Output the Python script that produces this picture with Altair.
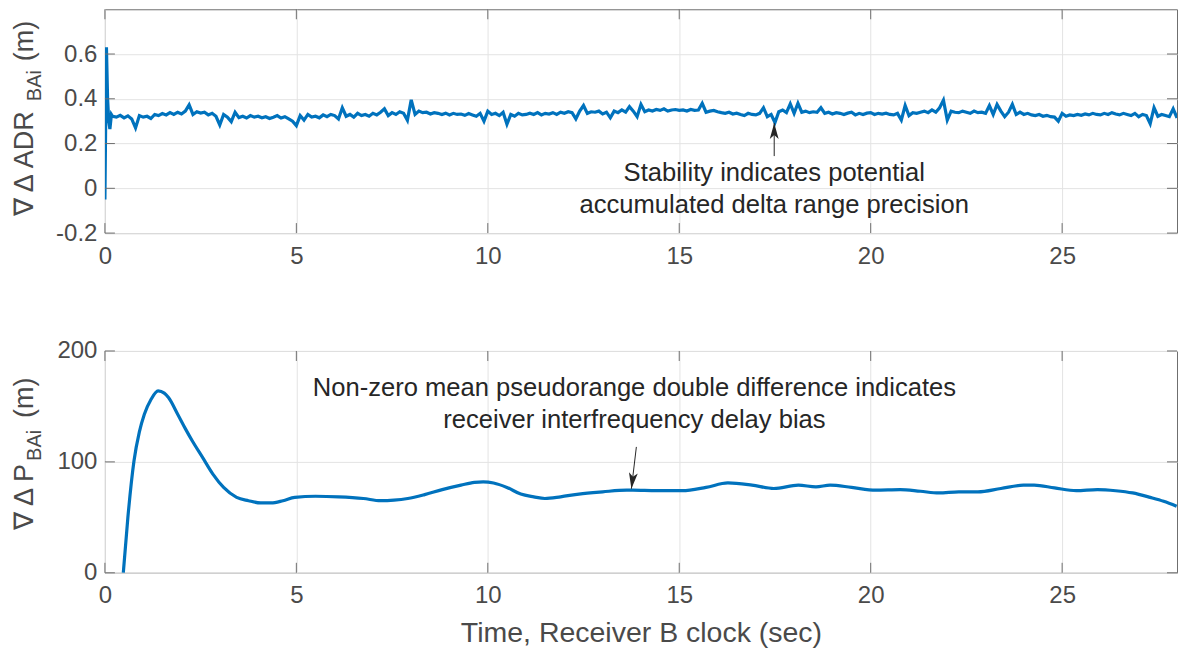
import altair as alt
import numpy as np
import pandas as pd

# ---------------- data ----------------
X_TICKS = [0, 5, 10, 15, 20, 25]
TOP_Y_TICKS = [-0.2, 0, 0.2, 0.4, 0.6]
BOT_Y_TICKS = [0, 100, 200]

# top panel: start-up transient (finer sampling)
TOP_T_HEAD = [0.0, 0.02, 0.04, 0.07, 0.10, 0.13, 0.17]
TOP_V_HEAD = [-0.05, 0.30, 0.63, 0.40, 0.30, 0.265, 0.33]

# top panel: samples every 0.1 s from 0.2 s to 28.0 s
TOP_V = [
    0.322, 0.318, 0.326, 0.315, 0.324, 0.310, 0.270, 0.325,
    0.318, 0.322, 0.312, 0.330, 0.325, 0.334, 0.328, 0.338, 0.330, 0.340,
    0.332, 0.345, 0.373, 0.330, 0.342, 0.336, 0.340, 0.328, 0.335, 0.322,
    0.283, 0.330, 0.318, 0.298, 0.340, 0.316, 0.322, 0.314, 0.325, 0.318,
    0.322, 0.315, 0.320, 0.312, 0.318, 0.325, 0.314, 0.320, 0.310, 0.300,
    0.280, 0.325, 0.305, 0.330, 0.318, 0.322, 0.315, 0.328, 0.320, 0.330,
    0.325, 0.310, 0.360, 0.322, 0.330, 0.318, 0.335, 0.325, 0.330, 0.322,
    0.335, 0.328, 0.340, 0.355, 0.325, 0.338, 0.330, 0.342, 0.335, 0.304,
    0.395, 0.330, 0.345, 0.338, 0.340, 0.332, 0.338, 0.335, 0.330, 0.336,
    0.328, 0.335, 0.330, 0.332, 0.326, 0.334, 0.328, 0.322, 0.335, 0.300,
    0.345, 0.330, 0.335, 0.325, 0.340, 0.286, 0.330, 0.322, 0.335, 0.328,
    0.330, 0.336, 0.330, 0.338, 0.328, 0.335, 0.332, 0.338, 0.330, 0.340,
    0.335, 0.342, 0.338, 0.310, 0.345, 0.370, 0.335, 0.342, 0.340, 0.345,
    0.332, 0.340, 0.315, 0.345, 0.338, 0.350, 0.340, 0.365, 0.345, 0.320,
    0.375, 0.342, 0.350, 0.345, 0.352, 0.348, 0.355, 0.345, 0.350, 0.352,
    0.348, 0.350, 0.345, 0.352, 0.348, 0.350, 0.380, 0.340, 0.345, 0.348,
    0.342, 0.338, 0.335, 0.340, 0.332, 0.336, 0.330, 0.325, 0.335, 0.330,
    0.328, 0.335, 0.360, 0.320, 0.330, 0.294, 0.342, 0.350, 0.338, 0.377,
    0.335, 0.380, 0.340, 0.345, 0.338, 0.342, 0.340, 0.360, 0.335, 0.340,
    0.332, 0.338, 0.335, 0.330, 0.336, 0.340, 0.328, 0.335, 0.330, 0.336,
    0.338, 0.330, 0.335, 0.332, 0.336, 0.330, 0.328, 0.335, 0.305, 0.370,
    0.325, 0.338, 0.335, 0.340, 0.345, 0.338, 0.350, 0.340, 0.360, 0.394,
    0.305, 0.345, 0.340, 0.338, 0.345, 0.340, 0.335, 0.345, 0.338, 0.340,
    0.335, 0.370, 0.330, 0.375, 0.345, 0.320, 0.340, 0.375, 0.330, 0.340,
    0.330, 0.335, 0.328, 0.325, 0.330, 0.322, 0.326, 0.320, 0.318, 0.300,
    0.335, 0.322, 0.328, 0.325, 0.330, 0.326, 0.332, 0.328, 0.335, 0.330,
    0.328, 0.335, 0.330, 0.338, 0.332, 0.328, 0.335, 0.330, 0.325, 0.335,
    0.320, 0.330, 0.325, 0.289, 0.360, 0.322, 0.330, 0.325, 0.320, 0.355,
    0.315,
]
TOP_T = list(np.round(np.arange(2, 281) / 10.0, 1))

# bottom panel
BOT_T = [0.48, 0.6, 0.76, 0.9, 1.03, 1.2, 1.39, 1.55, 1.66, 1.9,
         2.1, 2.28, 2.55, 2.82, 3.1, 3.44, 3.75, 4.07, 4.34, 4.65,
         4.96, 5.5, 6.1, 6.75, 7.2, 7.55, 7.91, 8.35, 8.81, 9.3,
         9.65, 9.88, 10.15, 10.5, 10.86, 11.2, 11.49, 11.9, 12.38, 13.0,
         13.63, 13.79, 14.4, 15.08, 15.7, 16.27, 16.9, 17.47, 18.11, 18.57,
         18.94, 19.5, 20.13, 20.77, 21.3, 21.78, 22.3, 22.8, 23.4, 23.99,
         24.27, 24.8, 25.37, 25.92, 26.4, 26.84, 27.3, 27.65, 27.99]
BOT_V = [0, 50, 101, 127, 143, 156, 164, 162, 158, 143,
         130, 119, 104, 89, 77, 68, 65, 63, 63, 65,
         68, 69, 68.5, 67, 65, 65.5, 67, 70.5, 75, 79,
         81.5, 82, 81, 77, 71, 68.5, 67, 68.5, 71, 73,
         74.5, 74.5, 74, 74, 77, 81, 79, 76, 79, 77.5,
         79, 77, 74.5, 75, 73.5, 72, 73, 73, 76, 79,
         79, 76.5, 74, 75, 74, 72, 68, 64.5, 60]

TOP_NOTE = ["Stability indicates potential", "accumulated delta range precision"]
TOP_NOTE_T = [17.48, 17.48]
TOP_NOTE_V = [0.067, -0.076]
TOP_ARROW_TAIL = (17.48, 0.144)
TOP_ARROW_TIP = (17.48, 0.292)

BOT_NOTE = ["Non-zero mean pseudorange double difference indicates",
            "receiver interfrequency delay bias"]
BOT_NOTE_T = [13.83, 13.83]
BOT_NOTE_V = [166.7, 137.8]
BOT_ARROW_TAIL = (13.88, 113.5)
BOT_ARROW_TIP = (13.75, 75.7)

# ---------------- style ----------------
FONT = "Liberation Sans"
AX = "#4a4a4a"
TXT = "#262626"
LINE = "#0072BD"
BOX = "#6e6e6e"
W, H1, H2 = 1073, 224, 222
TICK = 10
NOTE_SIZE = 25.6

ARROW_UP = "M0,-1 L0.55,1 L0,0.5 L-0.55,1 Z"
ARROW_DOWN = "M0,1 L0.55,-1 L0,-0.5 L-0.55,-1 Z"


def encodings(ydomain, yticks, x_title=None, label_expr=None):
    xaxis = alt.Axis(values=X_TICKS, title=x_title, labelFlush=False,
                     labelPadding=11, titlePadding=11)
    yargs = dict(values=yticks, title=None)
    if label_expr:
        yargs["labelExpr"] = label_expr
    yaxis = alt.Axis(**yargs)
    xs = alt.Scale(domain=[0, 28], nice=False, zero=False)
    ys = alt.Scale(domain=ydomain, nice=False, zero=False)
    ex = alt.X("t:Q", scale=xs, axis=xaxis)
    ey = alt.Y("v:Q", scale=ys, axis=yaxis)
    return ex, ey


def inward_ticks(ex, ey, yticks, h):
    xt = pd.DataFrame({"t": X_TICKS})
    yt = pd.DataFrame({"v": yticks})
    r = dict(color=BOX, strokeWidth=1)
    return [
        alt.Chart(xt).mark_rule(**r).encode(x=ex, y=alt.value(h), y2=alt.value(h - TICK)),
        alt.Chart(xt).mark_rule(**r).encode(x=ex, y=alt.value(0), y2=alt.value(TICK)),
        alt.Chart(yt).mark_rule(**r).encode(y=ey, x=alt.value(0), x2=alt.value(TICK)),
        alt.Chart(yt).mark_rule(**r).encode(y=ey, x=alt.value(W - TICK), x2=alt.value(W)),
    ]


def ylabel(parts):
    one = pd.DataFrame({"d": [0]})
    out = []
    for text, size, x, y, align in parts:
        out.append(
            alt.Chart(one).mark_text(
                text=text, angle=270, align=align, baseline="alphabetic",
                font=FONT, fontSize=size, color=AX,
            ).encode(x=alt.value(x), y=alt.value(y))
        )
    return out


def annotation(ex, ey, note_t, note_v, notes, tail, tip, shape, angle, xoff, yoff):
    notes_df = pd.DataFrame({"t": note_t, "v": note_v, "s": notes})
    text = alt.Chart(notes_df).mark_text(
        font=FONT, fontSize=NOTE_SIZE, color=TXT, align="center", baseline="middle"
    ).encode(x=ex, y=ey, text="s:N")
    arrow_df = pd.DataFrame({"t": [tail[0]], "v": [tail[1]], "t2": [tip[0]], "v2": [tip[1]]})
    shaft = alt.Chart(arrow_df).mark_rule(color=TXT, strokeWidth=1).encode(
        x=ex, x2="t2:Q", y=ey, y2="v2:Q")
    head_df = pd.DataFrame({"t": [tip[0]], "v": [tip[1]]})
    head = alt.Chart(head_df).mark_point(
        shape=shape, filled=True, size=260, color=TXT, opacity=1,
        angle=angle, xOffset=xoff, yOffset=yoff,
    ).encode(x=ex, y=ey)
    return [text, shaft, head]


# ---------------- top panel ----------------
ex1, ey1 = encodings([-0.2, 0.8], TOP_Y_TICKS,
                     label_expr="replace(format(datum.value, '~g'), '\u2212', '-')")
top_df = pd.DataFrame({"t": TOP_T_HEAD + TOP_T, "v": TOP_V_HEAD + TOP_V})
top_line = alt.Chart(top_df).mark_line(color=LINE, strokeWidth=3.2, clip=True).encode(x=ex1, y=ey1)

top = alt.layer(
    top_line,
    *inward_ticks(ex1, ey1, TOP_Y_TICKS, H1),
    *annotation(ex1, ey1, TOP_NOTE_T, TOP_NOTE_V, TOP_NOTE,
                TOP_ARROW_TAIL, TOP_ARROW_TIP, ARROW_UP, 0, 0, 8),
    *ylabel([
        ("\u2207 \u0394 ADR", 27, -72, 102, "right"),
        ("BAi", 20, -64, 92, "left"),
        ("(m)", 27, -72, 52, "left"),
    ]),
).properties(width=W, height=H1)

# ---------------- bottom panel ----------------
ex2, ey2 = encodings([0, 200], BOT_Y_TICKS, x_title="Time, Receiver B clock (sec)")
bot_df = pd.DataFrame({"t": BOT_T, "v": BOT_V})
bot_line = alt.Chart(bot_df).mark_line(color=LINE, strokeWidth=3.2, clip=True,
                                        interpolate="monotone").encode(x=ex2, y=ey2)

bot = alt.layer(
    bot_line,
    *inward_ticks(ex2, ey2, BOT_Y_TICKS, H2),
    *annotation(ex2, ey2, BOT_NOTE_T, BOT_NOTE_V, BOT_NOTE,
                BOT_ARROW_TAIL, BOT_ARROW_TIP, ARROW_DOWN, 7, 1.0, -8),
    *ylabel([
        ("\u2207 \u0394 P", 27, -72, 113, "right"),
        ("BAi", 20, -64, 110, "left"),
        ("(m)", 27, -72, 67, "left"),
    ]),
).properties(width=W, height=H2)

chart = alt.vconcat(top, bot, spacing=118, bounds="flush").configure_view(
    stroke=BOX, strokeWidth=1
).configure_axis(
    labelFont=FONT, labelFontSize=24, labelColor=AX,
    titleFont=FONT, titleFontSize=28.5, titleColor=AX, titleFontWeight="normal",
    grid=True, gridColor="#e3e3e3", gridWidth=1,
    ticks=False, tickSize=0, domain=False, labelPadding=8,
).properties(
    padding={"left": 10, "top": 8, "right": 4, "bottom": 5},
    autosize=alt.AutoSizeParams(type="pad"),
)

chart.save("out.html", embed_options={"renderer": "svg", "actions": False})
